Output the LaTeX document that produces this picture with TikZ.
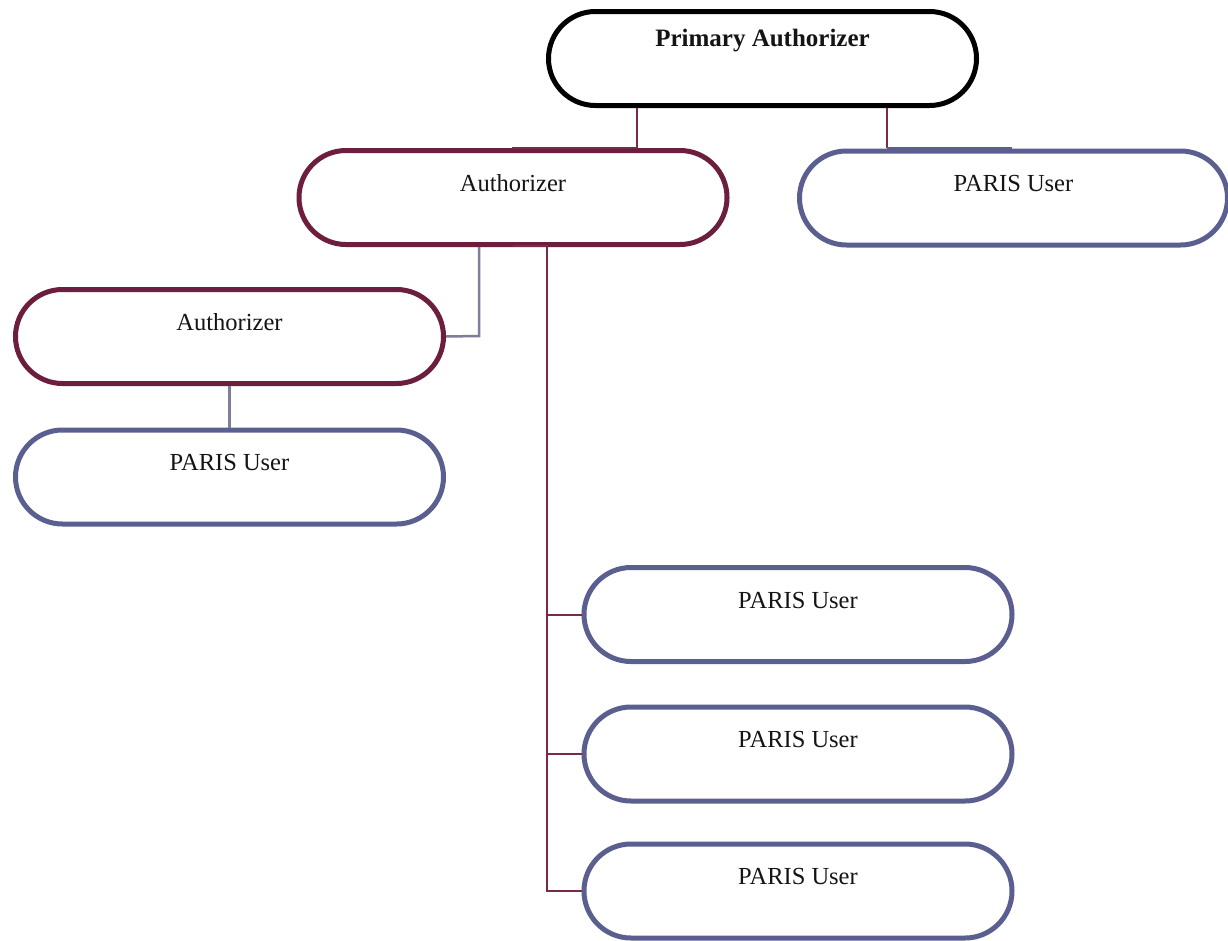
\documentclass[tikz,border=0pt]{standalone}
\usepackage{fontspec}
\setmainfont{Liberation Serif}
\definecolor{maroon}{HTML}{6B1E3E}
\definecolor{bluegray}{HTML}{5B5F8F}
\definecolor{mline}{HTML}{7A2A48}
\definecolor{gline}{HTML}{7D7F99}
\tikzset{
  pill/.style={draw, line width=5pt, fill=white, rounded corners=47pt,
    minimum width=428pt, minimum height=94pt, inner sep=0pt},
  blackpill/.style={pill, draw=black},
  mpill/.style={pill, draw=maroon},
  bpill/.style={pill, draw=bluegray},
  lbl/.style={font=\fontsize{24.5}{28}\selectfont, inner sep=0pt, text=black!92},
  mconn/.style={draw=mline, line width=2pt},
  gconn/.style={draw=gline, line width=2.5pt},
}
\begin{document}
\begin{tikzpicture}[x=1pt,y=-1pt]
\useasboundingbox (0,0) rectangle (1228,940);
\fill[white] (0,0) rectangle (1228,940);

\coordinate (j1) at (637,147.5);
\coordinate (j1e) at (512,147.5);
\coordinate (j2) at (887,148);
\coordinate (j2e) at (1012,148);
\coordinate (j3) at (479,336);
\coordinate (t) at (547,246);
\coordinate (tb) at (513,246);

% boxes
\node[blackpill] (P) at (762.5,58.5) {};
\node[mpill] (a1) at (513,197.5) {};
\node[bpill] (u1) at (1013.5,198) {};
\node[mpill] (a2) at (229.5,336.5) {};
\node[bpill] (u2) at (229.5,477) {};
\node[bpill] (u3) at (798,614.5) {};
\node[bpill] (u4) at (798,754) {};
\node[bpill] (u5) at (798,891) {};

% labels
\node[lbl, font=\fontsize{25}{28}\selectfont\bfseries] (Pt) at ([yshift=-32pt]P.north) {Primary Authorizer};
\node[lbl] (a1t) at ([yshift=-35pt]a1.north) {Authorizer};
\node[lbl] (u1t) at ([yshift=-35pt]u1.north) {PARIS User};
\node[lbl] (a2t) at ([yshift=-35pt]a2.north) {Authorizer};
\node[lbl] (u2t) at ([yshift=-35pt]u2.north) {PARIS User};
\node[lbl] (u3t) at ([yshift=-35pt]u3.north) {PARIS User};
\node[lbl] (u4t) at ([yshift=-35pt]u4.north) {PARIS User};
\node[lbl] (u5t) at ([yshift=-35pt]u5.north) {PARIS User};

% connectors
\draw[mconn] (P.south -| j1) -- (j1) -- (j1e);
\draw[mconn] (P.south -| j2) -- (j2);
\draw[draw=bluegray, line width=2pt] (j2) -- (j2e);
\draw[gconn] (a1.south -| j3) -- (j3) -- (a2.east);
\draw[gconn] (a2.south) -- (u2.north);
\draw[mconn] (tb) -- (t) -- (u5.west -| t) -- (u5.west);
\draw[mconn] (u3.west -| t) -- (u3.west);
\draw[mconn] (u4.west -| t) -- (u4.west);
\end{tikzpicture}
\end{document}
